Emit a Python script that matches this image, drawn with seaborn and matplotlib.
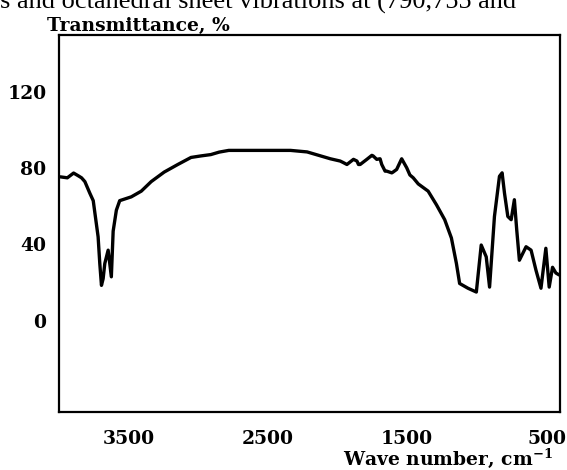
import matplotlib
matplotlib.use("Agg")
import matplotlib.pyplot as plt
import seaborn as sns
import pandas as pd

# IR spectrum (wave number in cm-1, transmittance in %)
wave_number = [3990, 3940, 3895, 3860, 3838, 3814, 3779, 3754, 3743, 3719,
               3707, 3695, 3683, 3671, 3647, 3624, 3611, 3588, 3564, 3481,
               3409, 3338, 3245, 3147, 3052, 2981, 2910, 2850, 2781, 2338,
               2219, 2052, 1981, 1959, 1933, 1886, 1861, 1850, 1838, 1790,
               1754, 1745, 1719, 1695, 1683, 1659, 1647, 1611, 1602, 1576,
               1540, 1504, 1481, 1457, 1421, 1350, 1290, 1231, 1183, 1147,
               1124, 1064, 1004, 969, 933, 909, 874, 838, 819, 802,
               778, 754, 731, 714, 695, 647, 611, 576, 540, 505,
               481, 457, 433, 410]
transmittance = [75.5, 75.0, 77.5, 76.0, 75.0, 73.0, 67.0, 63.0, 57.0, 44.0,
                 30.0, 18.5, 22.0, 30.0, 37.0, 23.0, 47.0, 58.0, 63.0, 65.0,
                 68.0, 73.0, 78.0, 82.0, 85.7, 86.5, 87.2, 88.5, 89.4, 89.4,
                 88.6, 85.0, 83.8, 83.0, 82.0, 84.7, 83.8, 82.0, 82.0, 84.7,
                 86.8, 86.5, 84.7, 85.0, 82.0, 78.5, 78.5, 77.6, 78.0, 79.4,
                 85.0, 80.3, 76.5, 75.0, 71.8, 68.0, 60.8, 53.0, 43.4, 30.0,
                 19.5, 17.0, 15.0, 39.7, 33.5, 17.6, 54.7, 75.8, 77.6, 67.0,
                 54.7, 53.0, 63.5, 47.6, 31.7, 38.8, 37.0, 26.5, 17.0, 38.0,
                 17.6, 28.0, 25.0, 24.0]

x_ticks = [4000, 3500, 3000, 2500, 2000, 1500, 1000, 500]
x_labels = ["", "3500", "", "2500", "", "1500", "", "500"]
y_ticks = [-40, -20, 0, 20, 40, 60, 80, 100, 120, 140]
y_labels = ["", "", "0", "", "40", "", "80", "", "120", ""]

df = pd.DataFrame({"wave": wave_number, "T": transmittance})

sns.set_theme(style="white")
plt.rcParams["font.family"] = ["DejaVu Serif"]
plt.rcParams["mathtext.fontset"] = "dejavuserif"
plt.rcParams["text.color"] = "black"

fig = plt.figure(figsize=(5.67, 4.7), dpi=100)
ax = fig.add_axes([0.104, 0.1234, 0.8845, 0.8021])

sns.lineplot(data=df, x="wave", y="T", ax=ax, color="black", linewidth=2.4,
             sort=False, estimator=None)

ax.set_xlim(4000, 400)
ax.set_ylim(-48, 150)
ax.set_xticks(x_ticks)
ax.set_xticklabels(x_labels)
ax.set_yticks(y_ticks)
ax.set_yticklabels(y_labels)
ax.set_xlabel("")
ax.set_ylabel("")

for sp in ax.spines.values():
    sp.set_color("black")
    sp.set_linewidth(1.6)

ax.tick_params(axis="both", direction="out", length=5, width=1.4,
               colors="black", labelcolor="black", labelsize=13.5)
ax.tick_params(axis="x", pad=8)
ax.tick_params(axis="y", pad=4)
for lab in ax.get_xticklabels() + ax.get_yticklabels():
    lab.set_fontweight("bold")

fig.text(47 / 567, 1 - 31 / 470, "Transmittance, %", fontsize=13.5,
         fontweight="bold", va="baseline", ha="left", color="black")
fig.text(553 / 567, 1 - 465 / 470, r"Wave number, cm$^{\mathbf{-1}}$",
         fontsize=13.5, fontweight="bold", va="baseline", ha="right",
         color="black")

# surrounding document text, cut off at the top of the picture as in the scan
fig.text(0, 1 - 9 / 470, "s and octahedral sheet vibrations at (790,755 and",
         fontsize=19, family=["Liberation Serif"], va="baseline", ha="left",
         color="black")

fig.savefig("out.png", dpi=100)
